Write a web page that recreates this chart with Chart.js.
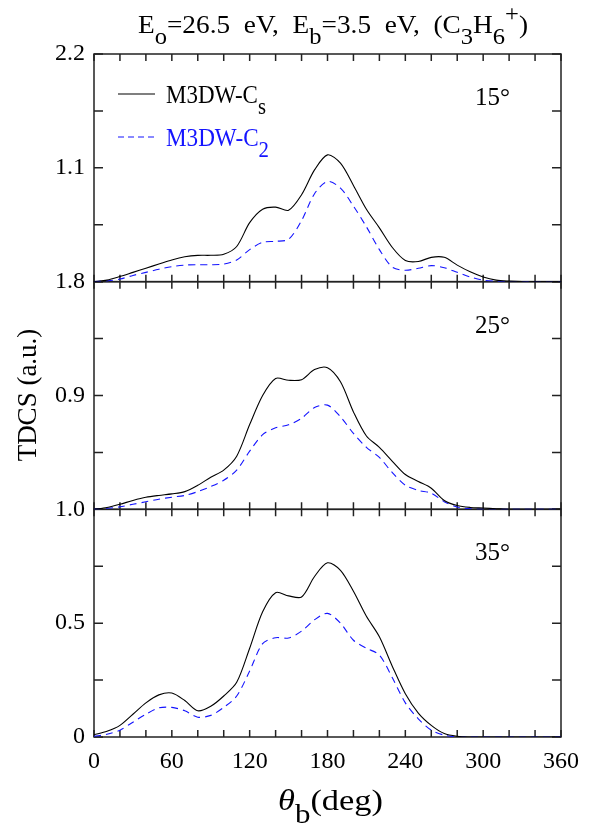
<!DOCTYPE html>
<html>
<head>
<meta charset="utf-8">
<script src="https://cdn.jsdelivr.net/npm/chart.js@4.4.1/dist/chart.umd.min.js"></script>
<style>
  html, body { margin: 0; padding: 0; background: #fff; }
</style>
</head>
<body>
<canvas id="tdcs" width="589" height="828"></canvas>
<script>
// ejected electron angle (deg)
const theta = [0, 10, 20, 30, 40, 50, 60, 70, 80, 90, 100, 110, 120, 130, 140, 150, 160, 170, 180,
               190, 200, 210, 220, 230, 240, 250, 260, 270, 280, 290, 300, 310, 320, 330, 340, 350, 360];

// 15 deg scattering
const cs15 = [0, 0.015, 0.05, 0.09, 0.13, 0.17, 0.21, 0.24, 0.254, 0.255, 0.265, 0.34, 0.57, 0.70, 0.72, 0.69, 0.84, 1.08, 1.225,
              1.145, 0.93, 0.70, 0.52, 0.33, 0.205, 0.195, 0.235, 0.235, 0.16, 0.095, 0.045, 0.015, 0.005, 0, 0, 0, 0];
const c2_15 = [0, 0.008, 0.025, 0.06, 0.09, 0.12, 0.145, 0.16, 0.164, 0.163, 0.17, 0.21, 0.31, 0.38, 0.39, 0.41, 0.59, 0.85, 0.968,
               0.904, 0.73, 0.53, 0.31, 0.14, 0.11, 0.13, 0.155, 0.135, 0.09, 0.045, 0.015, 0.005, 0, 0, 0, 0, 0];

// 25 deg
const cs25 = [0, 0.015, 0.04, 0.07, 0.095, 0.11, 0.122, 0.14, 0.19, 0.254, 0.31, 0.42, 0.67, 0.90, 1.035, 1.02, 1.025, 1.105, 1.12,
              1.008, 0.77, 0.58, 0.49, 0.38, 0.275, 0.22, 0.167, 0.07, 0.03, 0.015, 0.01, 0.005, 0, 0, 0, 0, 0];
const c2_25 = [0, 0.008, 0.02, 0.04, 0.06, 0.08, 0.096, 0.11, 0.14, 0.18, 0.23, 0.31, 0.46, 0.59, 0.645, 0.668, 0.72, 0.805, 0.824,
               0.732, 0.60, 0.49, 0.41, 0.29, 0.19, 0.15, 0.128, 0.06, 0.018, 0.005, 0, 0, 0, 0, 0, 0, 0];

// 35 deg
const cs35 = [0.01, 0.025, 0.051, 0.10, 0.15, 0.185, 0.193, 0.16, 0.115, 0.135, 0.18, 0.24, 0.39, 0.55, 0.634, 0.62, 0.615, 0.705, 0.765,
              0.732, 0.64, 0.53, 0.44, 0.31, 0.19, 0.105, 0.051, 0.015, 0.003, 0, 0, 0, 0, 0, 0, 0, 0];
const c2_35 = [0.003, 0.012, 0.03, 0.065, 0.10, 0.128, 0.13, 0.115, 0.087, 0.095, 0.13, 0.18, 0.29, 0.41, 0.436, 0.435, 0.465, 0.515, 0.543,
               0.50, 0.425, 0.39, 0.36, 0.26, 0.15, 0.08, 0.03, 0.008, 0, 0, 0, 0, 0, 0, 0, 0, 0];

// y-axis ranges, tick steps and which ticks get a label
const yMax = { yTop: 2.2, yMid: 1.8, yBot: 1.0 };
const yStep = { yTop: 0.55, yMid: 0.45, yBot: 0.25 };
const yLabelled = { yTop: [1.1, 2.2], yMid: [0.9, 1.8], yBot: [0, 0.5, 1.0] };
const xTickStep = 20;
const xLabelEvery = 60;

const FONT = '"Liberation Serif", "DejaVu Serif", serif';
const BLUE = 'rgb(20,20,255)';

const pts = ys => theta.map((t, i) => ({ x: t, y: ys[i] }));

function solid(ys, axis) {
  return { label: 'M3DW-Cs', data: pts(ys), yAxisID: axis, borderColor: '#000', borderWidth: 1.1 };
}
function dashed(ys, axis) {
  return { label: 'M3DW-C2', data: pts(ys), yAxisID: axis, borderColor: BLUE, borderWidth: 1.1, borderDash: [7, 5] };
}

function yScale(id, weight) {
  return {
    type: 'linear',
    position: 'left',
    stack: 'panels',
    stackWeight: 1,
    weight: weight,
    min: 0,
    max: yMax[id],
    ticks: {
      stepSize: yStep[id],
      autoSkip: false,
      padding: 9,
      color: '#000',
      font: { family: FONT, size: 24 },
      callback: v => yLabelled[id].some(l => Math.abs(l - v) < 1e-6) ? (v === 0 ? '0' : v.toFixed(1)) : ''
    },
    grid: { display: false, drawTicks: false },
    border: { display: false },
    afterFit: s => { s.width = 94; }
  };
}

// frame of each panel plus inward tick marks on all four sides
const framePlugin = {
  id: 'frame',
  beforeDatasetsDraw(chart) {
    const ctx = chart.ctx;
    const xs = chart.scales.x;
    const { left, right } = chart.chartArea;
    ctx.save();
    ctx.strokeStyle = '#222';
    ctx.lineWidth = 1.5;
    ['yTop', 'yMid', 'yBot'].forEach(id => {
      const s = chart.scales[id];
      ctx.strokeRect(left, s.top, right - left, s.bottom - s.top);
      ctx.beginPath();
      s.ticks.forEach(t => {
        const y = s.getPixelForValue(t.value);
        ctx.moveTo(left, y); ctx.lineTo(left + 9, y);
        ctx.moveTo(right, y); ctx.lineTo(right - 9, y);
      });
      xs.ticks.forEach(t => {
        const px = xs.getPixelForValue(t.value);
        ctx.moveTo(px, s.top); ctx.lineTo(px, s.top + 7);
        ctx.moveTo(px, s.bottom); ctx.lineTo(px, s.bottom - 7);
      });
      ctx.stroke();
    });
    ctx.restore();
  }
};

// text with sub/superscripts; parts = [[text, 0 normal | 1 sub | 2 sup], ...]
function rich(ctx, parts, x, y, size, color, fitWidth, italicFirst) {
  ctx.save();
  ctx.fillStyle = color;
  ctx.textAlign = 'left';
  ctx.textBaseline = 'alphabetic';
  const fontOf = (p, i) => (italicFirst && i === 0 ? 'italic ' : '') + (p[1] ? size * 0.9 : size) + 'px ' + FONT;
  let w = 0;
  parts.forEach((p, i) => { ctx.font = fontOf(p, i); w += ctx.measureText(p[0]).width; });
  const k = fitWidth ? fitWidth / w : 1;
  ctx.translate(x, y);
  ctx.scale(k, 1);
  let cx = 0;
  parts.forEach((p, i) => {
    ctx.font = fontOf(p, i);
    const dy = p[1] === 1 ? size * 0.42 : p[1] === 2 ? -size * 0.45 : 0;
    ctx.fillText(p[0], cx, dy);
    cx += ctx.measureText(p[0]).width;
  });
  ctx.restore();
}

const textPlugin = {
  id: 'texts',
  afterDraw(chart) {
    const ctx = chart.ctx;
    rich(ctx, [['E', 0], ['o', 1], ['=26.5  eV,  E', 0], ['b', 1], ['=3.5  eV,  (C', 0], ['3', 1], ['H', 0], ['6', 1], ['+', 2], [')', 0]],
         138, 33, 26, '#000', 390);

    // legend
    ctx.save();
    ctx.lineWidth = 1.1;
    ctx.strokeStyle = '#000';
    ctx.beginPath(); ctx.moveTo(118, 94); ctx.lineTo(155, 94); ctx.stroke();
    ctx.strokeStyle = BLUE;
    ctx.setLineDash([6, 4]);
    ctx.beginPath(); ctx.moveTo(118, 137); ctx.lineTo(155, 137); ctx.stroke();
    ctx.restore();
    rich(ctx, [['M3DW-C', 0], ['s', 1]], 166, 103, 26, '#000', 100);
    rich(ctx, [['M3DW-C', 0], ['2', 1]], 166, 146, 26, BLUE, 103);

    // panel angles
    const angles = { yTop: '15°', yMid: '25°', yBot: '35°' };
    Object.keys(angles).forEach(id => {
      const s = chart.scales[id];
      rich(ctx, [[angles[id], 0]], 475, s.top + 51, 25, '#000', 0);
    });

    // axis titles
    rich(ctx, [['θ', 0], ['b', 1], ['(deg)', 0]], 278, 810, 30, '#000', 105, true);
    ctx.save();
    ctx.translate(36, 395);
    ctx.rotate(-Math.PI / 2);
    ctx.fillStyle = '#000';
    ctx.font = '27px ' + FONT;
    ctx.textAlign = 'center';
    ctx.textBaseline = 'alphabetic';
    ctx.fillText('TDCS (a.u.)', 0, 0);
    ctx.restore();
  }
};

new Chart(document.getElementById('tdcs').getContext('2d'), {
  type: 'line',
  data: {
    datasets: [
      solid(cs15, 'yTop'), dashed(c2_15, 'yTop'),
      solid(cs25, 'yMid'), dashed(c2_25, 'yMid'),
      solid(cs35, 'yBot'), dashed(c2_35, 'yBot')
    ]
  },
  options: {
    responsive: false,
    animation: false,
    layout: { padding: { top: 54, right: 20, left: 0, bottom: 0 } },
    elements: {
      point: { radius: 0 },
      line: { tension: 0.3, fill: false }
    },
    plugins: { legend: { display: false }, tooltip: { enabled: false } },
    scales: {
      x: {
        type: 'linear',
        min: 0,
        max: 360,
        ticks: {
          stepSize: xTickStep,
          autoSkip: false,
          maxRotation: 0,
          padding: 10,
          color: '#000',
          font: { family: FONT, size: 24 },
          callback: v => v % xLabelEvery === 0 ? String(v) : ''
        },
        grid: { display: false, drawTicks: false },
        border: { display: false },
        afterFit: s => { s.height = 91; }
      },
      yBot: yScale('yBot', 1),
      yMid: yScale('yMid', 2),
      yTop: yScale('yTop', 3)
    }
  },
  plugins: [framePlugin, textPlugin]
});
</script>
</body>
</html>
